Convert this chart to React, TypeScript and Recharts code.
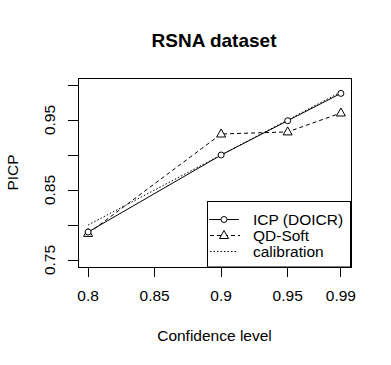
import React from 'react';
import { LineChart, Line, XAxis, YAxis, ReferenceArea } from 'recharts';

// Values
const confidence = [0.8, 0.9, 0.95, 0.99];
const icpDoicr = [0.79, 0.9, 0.949, 0.988];
const qdSoft = [0.788, 0.93, 0.933, 0.96];
const calibration = [0.8, 0.9, 0.95, 0.99];

const xTicks = [0.8, 0.85, 0.9, 0.95, 0.99];
const yTicks = [0.75, 0.8, 0.85, 0.9, 0.95, 1.0];
const yLabelled = [0.75, 0.85, 0.95];

const seriesNames = ['ICP (DOICR)', 'QD-Soft', 'calibration'];

// R-style 4% padding around the ranges
const xDomain: [number, number] = [0.7924, 0.9976];
const yDomain: [number, number] = [0.74, 1.01];

const FONT = '"Liberation Sans", Arial, sans-serif';

const data = confidence.map((c, i) => ({
    conf: c,
    icp: icpDoicr[i],
    qd: qdSoft[i],
    cal: calibration[i],
}));

const CircleDot = (props: any) => {
    const { cx, cy, index } = props;
    if (cx == null || cy == null) return <g key={index} />;
    return <circle key={index} cx={cx} cy={cy} r={3} fill="#fff" stroke="#000" strokeWidth={1} />;
};

const TriangleDot = (props: any) => {
    const { cx, cy, index } = props;
    if (cx == null || cy == null) return <g key={index} />;
    const pts = `${cx},${cy - 5} ${cx - 4.5},${cy + 3} ${cx + 4.5},${cy + 3}`;
    return <polygon key={index} points={pts} fill="#fff" stroke="#000" strokeWidth={1} />;
};

const YTick = (props: any) => {
    const { x, y, payload } = props;
    if (!yLabelled.includes(payload.value)) return <g />;
    return (
        <text
            x={x}
            y={y}
            transform={`rotate(-90 ${x} ${y})`}
            textAnchor="middle"
            fontFamily={FONT}
            fontSize={15.5}
            fill="#000"
        >
            {payload.value.toFixed(2)}
        </text>
    );
};

const Legend = () => (
    <g fontFamily={FONT} fontSize={15.5}>
        <rect x={207.5} y={201.5} width={143} height={65.5} fill="#fff" stroke="#000" strokeWidth={1} />
        {/* ICP */}
        <line x1={209} x2={239} y1={219.5} y2={219.5} stroke="#000" />
        <circle cx={224} cy={219.5} r={3} fill="#fff" stroke="#000" />
        <text x={253} y={224.7}>{seriesNames[0]}</text>
        {/* QD-Soft */}
        <line x1={210} x2={240} y1={235.5} y2={235.5} stroke="#000" strokeDasharray="4 3" />
        <polygon points="224,230.5 219.5,238.5 228.5,238.5" fill="#fff" stroke="#000" />
        <text x={253} y={240.7}>{seriesNames[1]}</text>
        {/* calibration */}
        <line x1={210} x2={236} y1={251.5} y2={251.5} stroke="#000" strokeDasharray="1.5 2" />
        <text x={253} y={256.7}>{seriesNames[2]}</text>
    </g>
);

export default function App() {
    return (
        <div style={{ position: 'absolute', left: 0, top: 0, width: 391, height: 365, background: '#fff' }}>
            <LineChart
                width={391}
                height={365}
                data={data}
                margin={{ top: 78, right: 40, bottom: 0, left: 0 }}
            >
                <XAxis
                    dataKey="conf"
                    type="number"
                    domain={xDomain}
                    allowDataOverflow
                    ticks={xTicks}
                    tickFormatter={(v: number) => String(v)}
                    height={98}
                    tickSize={10}
                    tickMargin={13}
                    axisLine={false}
                    tickLine={{ stroke: '#000', shapeRendering: 'crispEdges' }}
                    tick={{ fill: '#000', fontFamily: FONT, fontSize: 15.5 }}
                    label={({ viewBox }: any) => (
                        <text
                            x={viewBox.x + viewBox.width / 2}
                            y={viewBox.y + 73.7}
                            textAnchor="middle"
                            fontFamily={FONT}
                            fontSize={15.5}
                            fill="#000"
                        >
                            Confidence level
                        </text>
                    )}
                />
                <YAxis
                    type="number"
                    domain={yDomain}
                    allowDataOverflow
                    ticks={yTicks}
                    width={78}
                    tickSize={10}
                    tickMargin={13}
                    axisLine={false}
                    tickLine={{ stroke: '#000', shapeRendering: 'crispEdges' }}
                    tick={<YTick />}
                    label={({ viewBox }: any) => {
                        const lx = viewBox.x + 18.3;
                        const ly = viewBox.y + viewBox.height / 2;
                        return (
                            <text
                                x={lx}
                                y={ly}
                                transform={`rotate(-90 ${lx} ${ly})`}
                                textAnchor="middle"
                                fontFamily={FONT}
                                fontSize={15.5}
                                fill="#000"
                            >
                                PICP
                            </text>
                        );
                    }}
                />
                <ReferenceArea
                    x1={xDomain[0]}
                    x2={xDomain[1]}
                    y1={yDomain[0]}
                    y2={yDomain[1]}
                    fill="none"
                    fillOpacity={0}
                    stroke="#000"
                    strokeWidth={1}
                    shapeRendering="crispEdges"
                    ifOverflow="visible"
                />
                <Line
                    dataKey="cal"
                    stroke="#000"
                    strokeWidth={1}
                    strokeDasharray="1.5 2"
                    dot={false}
                    activeDot={false}
                    isAnimationActive={false}
                />
                <Line
                    dataKey="qd"
                    stroke="#000"
                    strokeWidth={1}
                    strokeDasharray="4 3"
                    dot={TriangleDot}
                    activeDot={false}
                    isAnimationActive={false}
                />
                <Line
                    dataKey="icp"
                    stroke="#000"
                    strokeWidth={1}
                    dot={CircleDot}
                    activeDot={false}
                    isAnimationActive={false}
                />
            </LineChart>
            <svg
                width={391}
                height={365}
                style={{ position: 'absolute', left: 0, top: 0, pointerEvents: 'none' }}
            >
                <text
                    x={214}
                    y={46.7}
                    textAnchor="middle"
                    fontFamily={FONT}
                    fontWeight="bold"
                    fontSize={19}
                    fill="#000"
                >
                    RSNA dataset
                </text>
                <Legend />
            </svg>
        </div>
    );
}
